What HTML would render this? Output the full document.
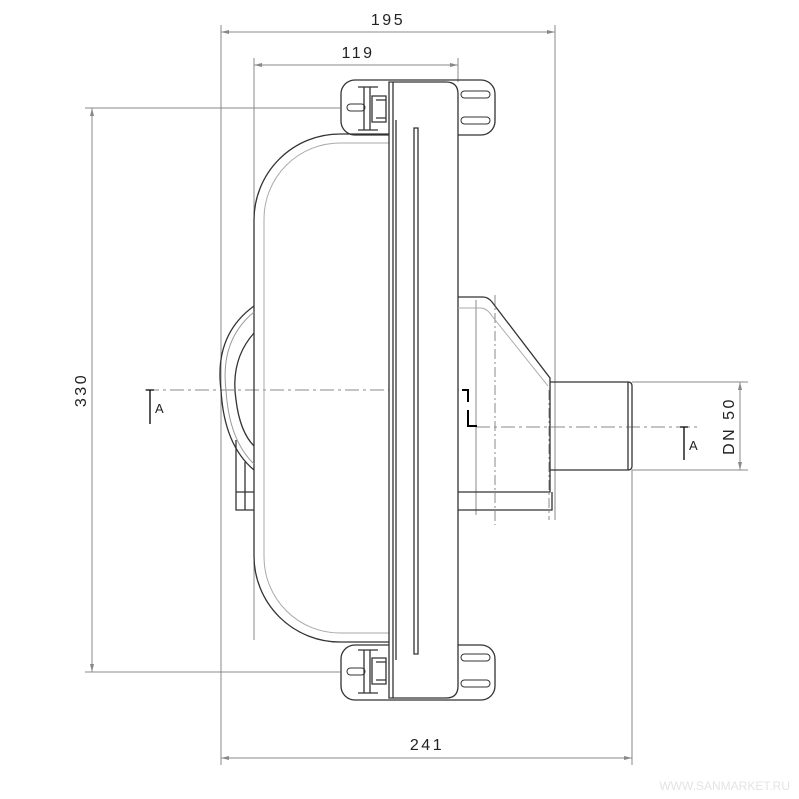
<!DOCTYPE html>
<html><head><style>html,body{margin:0;padding:0;background:#fff}svg{display:block}</style></head><body>
<svg width="799" height="799" viewBox="0 0 799 799" xmlns="http://www.w3.org/2000/svg" font-family="Liberation Sans, sans-serif">
<g fill="none" stroke="#888" stroke-width="1">
<line x1="221" y1="25" x2="221" y2="765"/>
<line x1="555" y1="25" x2="555" y2="520"/>
<line x1="221" y1="32" x2="555" y2="32"/>
<line x1="254" y1="58" x2="254" y2="640"/>
<line x1="458" y1="58" x2="458" y2="82"/>
<line x1="254" y1="65" x2="458" y2="65"/>
<line x1="85" y1="108" x2="340" y2="108"/>
<line x1="85" y1="672" x2="340" y2="672"/>
<line x1="92" y1="108" x2="92" y2="672"/>
<line x1="632" y1="470" x2="632" y2="765"/>
<line x1="221" y1="758" x2="632" y2="758"/>
<line x1="632" y1="382" x2="748" y2="382"/>
<line x1="632" y1="470" x2="748" y2="470"/>
<line x1="740" y1="382" x2="740" y2="470"/>
<line x1="476" y1="300" x2="476" y2="515"/>
<line x1="495" y1="295" x2="495" y2="525" stroke-dasharray="10,3,2,3"/>
<line x1="549" y1="390" x2="549" y2="520" stroke-dasharray="10,3,2,3"/>
<line x1="145" y1="390" x2="462" y2="390" stroke-dasharray="14,4,3,4"/>
<line x1="476" y1="427" x2="700" y2="427" stroke-dasharray="14,4,3,4"/>
</g>
<g fill="#888">
<polygon points="221,32 229,30 229,34"/><polygon points="555,32 547,30 547,34"/>
<polygon points="254,65 262,63 262,67"/><polygon points="458,65 450,63 450,67"/>
<polygon points="92,108 90,116 94,116"/><polygon points="92,672 90,664 94,664"/>
<polygon points="221,758 229,756 229,760"/><polygon points="632,758 624,756 624,760"/>
<polygon points="740,382 738,390 742,390"/><polygon points="740,470 738,462 742,462"/>
</g>
<g fill="none" stroke="#333" stroke-width="1.3">
<path d="M390,134 H340 A86,86 0 0 0 254,220 V556 A86,86 0 0 0 340,642 H390"/>
<path d="M390,143 H340 A76,76 0 0 0 264,219 V557 A76,76 0 0 0 340,633 H390" stroke="#aaa" stroke-width="1"/>
<path d="M254,306 Q214,335 221,390 Q224,445 254,470"/>
<path d="M254,312 Q220,340 226,390 Q229,440 254,464" stroke="#999" stroke-width="1"/>
<path d="M254,333 Q230,360 236,400 Q240,432 254,446"/>
<path d="M236,440 V510 H254 M236,492 H254 M245,462 V510" />
<!-- clamps -->
<rect x="341" y="80" width="154" height="55" rx="14"/>
<rect x="341" y="645" width="154" height="55" rx="14"/>
<!-- flange -->
<path d="M389,82 H446 Q458,82 458,94 V686 Q458,698 446,698 H389 Z" fill="#fff"/>
<line x1="393" y1="82" x2="393" y2="698"/>
<line x1="396" y1="120" x2="396" y2="660"/>
<path d="M414,128 V654 H418 V128 Z"/>
<!-- top clamp inner -->
<path d="M358,87 H378 M358,130 H378 M364,87 V130 M370,87 V130"/>
<path d="M372,96 H386 V122 H372 Z M376,100 H386 V118 H376"/>
<rect x="347" y="104" width="18" height="7" rx="3.5" stroke-width="1"/>
<rect x="461" y="91" width="29" height="7" rx="3.5" stroke-width="1"/>
<rect x="461" y="117" width="29" height="7" rx="3.5" stroke-width="1"/>
<!-- bottom clamp inner -->
<path d="M358,650 H378 M358,693 H378 M364,650 V693 M370,650 V693"/>
<path d="M372,658 H386 V684 H372 Z M376,662 H386 V680 H376"/>
<rect x="347" y="668" width="18" height="7" rx="3.5" stroke-width="1"/>
<rect x="461" y="654" width="29" height="7" rx="3.5" stroke-width="1"/>
<rect x="461" y="680" width="29" height="7" rx="3.5" stroke-width="1"/>
<!-- outlet -->
<path d="M458,297 H483 Q488,297 492,302 L550,378 V492 H458"/>
<path d="M458,308 H480 Q487,308 492,316 L548,386" stroke="#aaa" stroke-width="1"/>
<path d="M458,510 H552 V492"/>
<path d="M550,382 H628 Q632,382 632,386 V466 Q632,470 628,470 H550"/>
<line x1="628" y1="382" x2="628" y2="470"/>
<path d="M462,390 H468 V402 M468,410 V426 H477" stroke="#000" stroke-width="2"/>
<path d="M146,390 H154 M150,390 V424 M680,427 H688 M684,427 V460" stroke="#000" stroke-width="1.3"/>
</g>
<g fill="#222" font-size="16" letter-spacing="2.5">
<text x="388" y="25" text-anchor="middle">195</text>
<text x="358" y="58" text-anchor="middle">119</text>
<text x="427" y="750" text-anchor="middle">241</text>
<text transform="translate(86,390) rotate(-90)" text-anchor="middle">330</text>
<text transform="translate(734,426) rotate(-90)" text-anchor="middle">DN 50</text>
<text x="155" y="413" font-size="13" letter-spacing="0">A</text>
<text x="689" y="450" font-size="13" letter-spacing="0">A</text>
</g>
<text x="790" y="790" text-anchor="end" fill="#e4e4e4" font-size="12">WWW.SANMARKET.RU</text>
</svg>
</body></html>
